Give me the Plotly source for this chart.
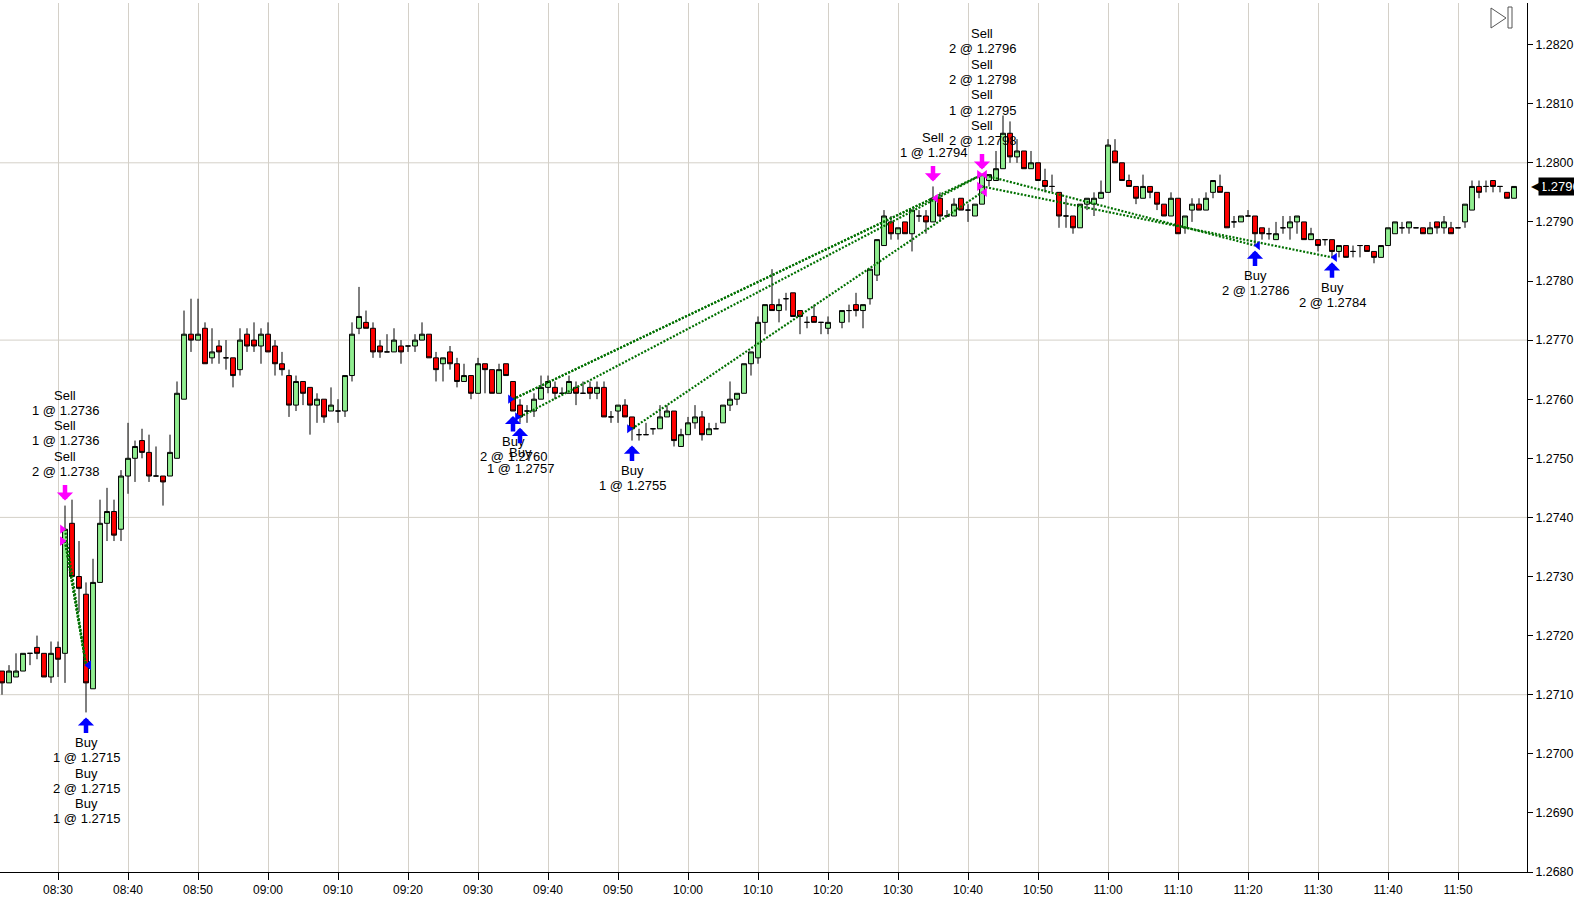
import pandas as pd
import plotly.graph_objects as go

DAY = "2012-06-15"
FIRST_BAR = "08:22"
LAST_BAR = "11:58"
MISSING_BARS = ["10:21"]

# one-minute bars, grouped by ten minutes (first row 08:22-08:29, 10:20 row has no 10:21)
opens = [
    1.2714, 1.2712, 1.2713, 1.2714, 1.2717, 1.2718, 1.2717, 1.2713,
    1.2718, 1.2717, 1.2739, 1.2730, 1.2727, 1.2711, 1.2729, 1.2739, 1.2741, 1.2738,
    1.2747, 1.2750, 1.2753, 1.2751, 1.2747, 1.2747, 1.2747, 1.2750, 1.2760, 1.2771,
    1.2770, 1.2772, 1.2767, 1.2769, 1.2767, 1.2767, 1.2765, 1.2771, 1.2770, 1.2769,
    1.2771, 1.2769, 1.2766, 1.2764, 1.2759, 1.2763, 1.2762, 1.2759, 1.2760, 1.2758,
    1.2758, 1.2758, 1.2764, 1.2772, 1.2773, 1.2772, 1.2769, 1.2768, 1.2768, 1.2769,
    1.2769, 1.2769, 1.2770, 1.2771, 1.2767, 1.2766, 1.2768, 1.2766, 1.2763, 1.2764,
    1.2761, 1.2766, 1.2765, 1.2761, 1.2766, 1.2763, 1.2759, 1.2758, 1.2758, 1.2760,
    1.2762, 1.2762, 1.2761, 1.2761, 1.2762, 1.2761, 1.2762, 1.2761, 1.2762, 1.2757,
    1.2758, 1.2759, 1.2757, 1.2754, 1.2754, 1.2755, 1.2755, 1.2757, 1.2758, 1.2752,
    1.2754, 1.2756, 1.2757, 1.2754, 1.2755, 1.2756, 1.2759, 1.2760, 1.2761, 1.2766,
    1.2767, 1.2773, 1.2776, 1.2775, 1.2777, 1.2778, 1.2775, 1.2773, 1.2774, 1.2773,
    1.2772, 1.2773, 1.2775, 1.2776, 1.2775, 1.2777, 1.2781, 1.2786, 1.2790,
    1.2788, 1.2790, 1.2788, 1.2791, 1.2791, 1.2790, 1.2794, 1.2791, 1.2791, 1.2794,
    1.2792, 1.2791, 1.2793, 1.2797, 1.2797, 1.2799, 1.2805, 1.2801, 1.2802, 1.2799,
    1.2800, 1.2797, 1.2796, 1.2795, 1.2791, 1.2791, 1.2789, 1.2793, 1.2793, 1.2794,
    1.2795, 1.2802, 1.2800, 1.2797, 1.2796, 1.2794, 1.2796, 1.2795, 1.2793, 1.2791,
    1.2794, 1.2789, 1.2792, 1.2793, 1.2792, 1.2795, 1.2796, 1.2795, 1.2790, 1.2790,
    1.2791, 1.2791, 1.2789, 1.2788, 1.2787, 1.2789, 1.2789, 1.2790, 1.2790, 1.2787,
    1.2787, 1.2787, 1.2787, 1.2785, 1.2786, 1.2785, 1.2786, 1.2786, 1.2785, 1.2784,
    1.2786, 1.2788, 1.2789, 1.2789, 1.2789, 1.2789, 1.2788, 1.2790, 1.2789, 1.2789,
    1.2789, 1.2790, 1.2792, 1.2796, 1.2796, 1.2797, 1.2796, 1.2795, 1.2794,
]
highs = [
    1.2714, 1.2715, 1.2717, 1.2717, 1.2717, 1.2720, 1.2717, 1.2719,
    1.2719, 1.2742, 1.2743, 1.2736, 1.2729, 1.2733, 1.2743, 1.2745, 1.2743, 1.2748,
    1.2756, 1.2753, 1.2755, 1.2754, 1.2752, 1.2747, 1.2754, 1.2763, 1.2775, 1.2777,
    1.2777, 1.2773, 1.2772, 1.2770, 1.2770, 1.2767, 1.2772, 1.2772, 1.2773, 1.2772,
    1.2773, 1.2770, 1.2768, 1.2765, 1.2764, 1.2763, 1.2762, 1.2761, 1.2760, 1.2762,
    1.2760, 1.2764, 1.2773, 1.2779, 1.2775, 1.2773, 1.2770, 1.2771, 1.2772, 1.2770,
    1.2769, 1.2771, 1.2773, 1.2771, 1.2768, 1.2767, 1.2769, 1.2767, 1.2766, 1.2764,
    1.2767, 1.2766, 1.2765, 1.2766, 1.2766, 1.2763, 1.2760, 1.2759, 1.2761, 1.2764,
    1.2764, 1.2763, 1.2762, 1.2764, 1.2763, 1.2763, 1.2763, 1.2763, 1.2763, 1.2758,
    1.2759, 1.2760, 1.2757, 1.2755, 1.2756, 1.2755, 1.2759, 1.2759, 1.2758, 1.2755,
    1.2757, 1.2759, 1.2758, 1.2756, 1.2756, 1.2759, 1.2763, 1.2761, 1.2766, 1.2768,
    1.2774, 1.2776, 1.2782, 1.2777, 1.2778, 1.2778, 1.2775, 1.2774, 1.2776, 1.2773,
    1.2774, 1.2775, 1.2776, 1.2778, 1.2776, 1.2782, 1.2787, 1.2792, 1.2791,
    1.2789, 1.2790, 1.2792, 1.2792, 1.2792, 1.2796, 1.2795, 1.2792, 1.2794, 1.2794,
    1.2793, 1.2793, 1.2798, 1.2798, 1.2802, 1.2808, 1.2807, 1.2804, 1.2802, 1.2802,
    1.2800, 1.2799, 1.2798, 1.2795, 1.2794, 1.2791, 1.2793, 1.2794, 1.2795, 1.2797,
    1.2804, 1.2804, 1.2800, 1.2798, 1.2796, 1.2798, 1.2796, 1.2795, 1.2793, 1.2795,
    1.2794, 1.2791, 1.2794, 1.2794, 1.2795, 1.2797, 1.2798, 1.2795, 1.2791, 1.2791,
    1.2792, 1.2791, 1.2789, 1.2789, 1.2790, 1.2791, 1.2791, 1.2791, 1.2790, 1.2789,
    1.2787, 1.2787, 1.2787, 1.2786, 1.2786, 1.2786, 1.2786, 1.2786, 1.2785, 1.2786,
    1.2789, 1.2790, 1.2790, 1.2790, 1.2789, 1.2789, 1.2790, 1.2790, 1.2791, 1.2790,
    1.2789, 1.2793, 1.2797, 1.2797, 1.2797, 1.2797, 1.2796, 1.2795, 1.2796,
]
lows = [
    1.2710, 1.2712, 1.2713, 1.2714, 1.2715, 1.2716, 1.2713, 1.2712,
    1.2713, 1.2712, 1.2730, 1.2724, 1.2707, 1.2711, 1.2729, 1.2736, 1.2736, 1.2736,
    1.2744, 1.2746, 1.2750, 1.2746, 1.2747, 1.2742, 1.2747, 1.2750, 1.2760, 1.2768,
    1.2770, 1.2766, 1.2766, 1.2766, 1.2765, 1.2762, 1.2764, 1.2768, 1.2768, 1.2766,
    1.2768, 1.2764, 1.2764, 1.2757, 1.2758, 1.2759, 1.2754, 1.2756, 1.2756, 1.2758,
    1.2756, 1.2757, 1.2763, 1.2771, 1.2772, 1.2767, 1.2767, 1.2768, 1.2768, 1.2766,
    1.2768, 1.2768, 1.2770, 1.2767, 1.2763, 1.2763, 1.2765, 1.2762, 1.2763, 1.2760,
    1.2761, 1.2761, 1.2761, 1.2761, 1.2764, 1.2758, 1.2756, 1.2756, 1.2757, 1.2760,
    1.2761, 1.2760, 1.2761, 1.2761, 1.2759, 1.2761, 1.2760, 1.2760, 1.2757, 1.2756,
    1.2756, 1.2757, 1.2753, 1.2753, 1.2754, 1.2754, 1.2755, 1.2757, 1.2752, 1.2752,
    1.2754, 1.2755, 1.2753, 1.2754, 1.2755, 1.2756, 1.2758, 1.2759, 1.2761, 1.2764,
    1.2766, 1.2771, 1.2775, 1.2773, 1.2775, 1.2774, 1.2771, 1.2772, 1.2773, 1.2771,
    1.2771, 1.2772, 1.2773, 1.2774, 1.2772, 1.2776, 1.2780, 1.2786, 1.2787,
    1.2787, 1.2788, 1.2785, 1.2790, 1.2788, 1.2790, 1.2790, 1.2791, 1.2791, 1.2792,
    1.2790, 1.2791, 1.2793, 1.2796, 1.2797, 1.2799, 1.2800, 1.2800, 1.2799, 1.2799,
    1.2797, 1.2795, 1.2795, 1.2789, 1.2789, 1.2788, 1.2789, 1.2792, 1.2791, 1.2794,
    1.2795, 1.2800, 1.2797, 1.2796, 1.2793, 1.2794, 1.2794, 1.2792, 1.2791, 1.2791,
    1.2788, 1.2788, 1.2790, 1.2792, 1.2792, 1.2794, 1.2795, 1.2789, 1.2789, 1.2790,
    1.2791, 1.2786, 1.2787, 1.2787, 1.2787, 1.2788, 1.2787, 1.2788, 1.2787, 1.2787,
    1.2785, 1.2786, 1.2784, 1.2784, 1.2784, 1.2784, 1.2784, 1.2785, 1.2783, 1.2784,
    1.2786, 1.2788, 1.2788, 1.2788, 1.2789, 1.2788, 1.2788, 1.2788, 1.2788, 1.2788,
    1.2789, 1.2789, 1.2792, 1.2794, 1.2795, 1.2795, 1.2795, 1.2794, 1.2794,
]
closes = [
    1.2712, 1.2714, 1.2714, 1.2717, 1.2717, 1.2717, 1.2713, 1.2717,
    1.2716, 1.2738, 1.2730, 1.2728, 1.2712, 1.2729, 1.2739, 1.2741, 1.2737, 1.2747,
    1.2750, 1.2752, 1.2751, 1.2747, 1.2747, 1.2746, 1.2751, 1.2761, 1.2771, 1.2770,
    1.2771, 1.2766, 1.2768, 1.2768, 1.2767, 1.2764, 1.2770, 1.2769, 1.2769, 1.2771,
    1.2768, 1.2766, 1.2765, 1.2759, 1.2763, 1.2761, 1.2759, 1.2760, 1.2757, 1.2759,
    1.2758, 1.2764, 1.2771, 1.2774, 1.2772, 1.2768, 1.2768, 1.2768, 1.2770, 1.2768,
    1.2769, 1.2770, 1.2771, 1.2767, 1.2765, 1.2767, 1.2766, 1.2763, 1.2764, 1.2761,
    1.2766, 1.2765, 1.2761, 1.2765, 1.2764, 1.2758, 1.2757, 1.2758, 1.2760, 1.2762,
    1.2763, 1.2761, 1.2761, 1.2763, 1.2761, 1.2761, 1.2761, 1.2762, 1.2757, 1.2757,
    1.2759, 1.2757, 1.2755, 1.2754, 1.2754, 1.2755, 1.2757, 1.2758, 1.2753, 1.2754,
    1.2756, 1.2757, 1.2754, 1.2755, 1.2755, 1.2759, 1.2760, 1.2761, 1.2766, 1.2768,
    1.2773, 1.2776, 1.2775, 1.2776, 1.2777, 1.2774, 1.2774, 1.2773, 1.2773, 1.2773,
    1.2773, 1.2775, 1.2775, 1.2775, 1.2776, 1.2782, 1.2787, 1.2791, 1.2788,
    1.2789, 1.2788, 1.2792, 1.2791, 1.2790, 1.2794, 1.2791, 1.2791, 1.2793, 1.2792,
    1.2792, 1.2793, 1.2798, 1.2798, 1.2799, 1.2805, 1.2801, 1.2802, 1.2799, 1.2800,
    1.2797, 1.2796, 1.2796, 1.2791, 1.2791, 1.2789, 1.2793, 1.2794, 1.2794, 1.2795,
    1.2803, 1.2800, 1.2797, 1.2796, 1.2794, 1.2796, 1.2795, 1.2793, 1.2791, 1.2794,
    1.2788, 1.2791, 1.2793, 1.2792, 1.2794, 1.2797, 1.2795, 1.2789, 1.2790, 1.2791,
    1.2791, 1.2788, 1.2788, 1.2788, 1.2788, 1.2789, 1.2790, 1.2791, 1.2787, 1.2788,
    1.2786, 1.2787, 1.2785, 1.2786, 1.2784, 1.2785, 1.2786, 1.2785, 1.2784, 1.2786,
    1.2789, 1.2790, 1.2789, 1.2790, 1.2789, 1.2788, 1.2789, 1.2789, 1.2790, 1.2788,
    1.2789, 1.2793, 1.2796, 1.2795, 1.2796, 1.2796, 1.2796, 1.2794, 1.2796,
]

# executions, in the order the labels are stacked (top to bottom)
exec_times = ["08:31", "08:31", "08:31", "08:34", "08:34", "08:34",
              "09:35", "09:36", "09:52", "10:35",
              "10:42", "10:42", "10:42", "10:42", "11:21", "11:32"]
exec_sides = ["Sell", "Sell", "Sell", "Buy", "Buy", "Buy",
              "Buy", "Buy", "Buy", "Sell",
              "Sell", "Sell", "Sell", "Sell", "Buy", "Buy"]
exec_qty = [1, 1, 2, 1, 2, 1, 2, 1, 1, 1, 2, 2, 1, 2, 2, 2]
exec_prices = [1.2736, 1.2736, 1.2738, 1.2715, 1.2715, 1.2715,
               1.2760, 1.2757, 1.2755, 1.2794,
               1.2796, 1.2798, 1.2795, 1.2798, 1.2786, 1.2784]
exec_roles = ["entry", "entry", "entry", "exit", "exit", "exit",
              "entry", "entry", "entry", "exit",
              "entry", "entry", "exit", "exit", "exit", "exit"]

# entry -> exit pairs
trade_entry_times = ["08:31", "08:31", "08:31", "09:35", "09:35", "09:36", "09:52", "10:42", "10:42"]
trade_entry_prices = [1.2736, 1.2736, 1.2738, 1.2760, 1.2760, 1.2757, 1.2755, 1.2798, 1.2796]
trade_exit_times = ["08:34", "08:34", "08:34", "10:35", "10:42", "10:42", "10:42", "11:21", "11:32"]
trade_exit_prices = [1.2715, 1.2715, 1.2715, 1.2794, 1.2798, 1.2798, 1.2795, 1.2786, 1.2784]

GRID_LEVELS = [1.2710, 1.2740, 1.2770, 1.2800]

FONT = "Liberation Sans, Arial, sans-serif"
GRID = "#d4d0c8"
SELL_COLOR = "#ff00ff"
BUY_COLOR = "#0000ff"
TRADE_LINE = "#007000"

W, H = 1574, 903
M_L, M_R, M_T, M_B = 0, 47, 3, 31
PLOT_W = W - M_L - M_R
PLOT_H = H - M_T - M_B


def ts(hhmm):
    return pd.Timestamp(f"{DAY} {hhmm}")


def px_x(px):
    # pixel column -> paper x
    return (px - M_L) / PLOT_W


def px_y(py):
    # pixel row -> paper y
    return (H - M_B - py) / PLOT_H


bar_times = pd.date_range(ts(FIRST_BAR), ts(LAST_BAR), freq="1min")
bar_times = bar_times[~bar_times.isin([ts(t) for t in MISSING_BARS])]
assert len(bar_times) == len(opens) == len(highs) == len(lows) == len(closes)
bar_index = {t: i for i, t in enumerate(bar_times)}

fig = go.Figure()

fig.add_trace(go.Candlestick(
    x=bar_times,
    open=opens, high=highs, low=lows, close=closes,
    increasing=dict(fillcolor="#90ee90", line=dict(color="black", width=1)),
    decreasing=dict(fillcolor="#ff0000", line=dict(color="black", width=1)),
    whiskerwidth=0,
    hoverinfo="skip",
    showlegend=False,
))

# dotted lines between entry and exit fills
line_x, line_y = [], []
for t0, p0, t1, p1 in zip(trade_entry_times, trade_entry_prices, trade_exit_times, trade_exit_prices):
    line_x += [ts(t0), ts(t1), None]
    line_y += [p0, p1, None]
fig.add_trace(go.Scatter(
    x=line_x, y=line_y, mode="lines",
    line=dict(color=TRADE_LINE, width=2.2, dash="2px,1.6px"),
    hoverinfo="skip", showlegend=False,
))

# fill markers: entries sit left of the bar, exits right of it
nudge = pd.Timedelta(seconds=24)
for side, color in (("Sell", SELL_COLOR), ("Buy", BUY_COLOR)):
    for role, symbol, shift in (("entry", "triangle-right", -nudge), ("exit", "triangle-left", nudge)):
        xs, ys = [], []
        for t, s, p, r in zip(exec_times, exec_sides, exec_prices, exec_roles):
            if s == side and r == role:
                xs.append(ts(t) + shift)
                ys.append(p)
        if xs:
            fig.add_trace(go.Scatter(
                x=xs, y=ys, mode="markers",
                marker=dict(symbol=symbol, size=8, color=color, line=dict(width=0)),
                hoverinfo="skip", showlegend=False, cliponaxis=False,
            ))

# arrows and stacked labels per bar
groups = []
for t, s, q, p in zip(exec_times, exec_sides, exec_qty, exec_prices):
    if not groups or groups[-1][0] != (t, s):
        groups.append(((t, s), []))
    groups[-1][1].append((q, p))

LINE_STEP = 15.3
for (t, side), fills in groups:
    i = bar_index[ts(t)]
    lines = []
    for q, p in fills:
        lines += [side, f"{q} @ {p:.4f}"]
    if side == "Sell":
        anchor = highs[i]
        shifts = [34 + LINE_STEP * k for k in range(len(lines))][::-1]
        color, ay, yshift = SELL_COLOR, -17, 5
    else:
        anchor = lows[i]
        shifts = [-(30 + LINE_STEP * k) for k in range(len(lines))]
        color, ay, yshift = BUY_COLOR, 17, -5
    for txt, sh in zip(lines, shifts):
        fig.add_annotation(x=ts(t), y=anchor, text=txt, showarrow=False, yshift=sh,
                           font=dict(family=FONT, size=13, color="black"))
    fig.add_annotation(x=ts(t), y=anchor, text="", showarrow=True, ax=0, ay=ay, yshift=yshift,
                       arrowhead=1, arrowsize=0.6, arrowwidth=4.5, arrowcolor=color)

for level in GRID_LEVELS:
    fig.add_shape(type="line", xref="paper", x0=0, x1=1, yref="y", y0=level, y1=level,
                  line=dict(color=GRID, width=1), layer="below")

# last price tag on the price axis
last_close = closes[-1]
fig.add_annotation(xref="paper", x=1, y=last_close, xanchor="left", xshift=11,
                   text=f"{last_close:.4f}", showarrow=False, bgcolor="black", borderpad=1,
                   font=dict(family=FONT, size=13, color="white"))
fig.add_annotation(xref="paper", x=1, y=last_close, xanchor="left", xshift=2,
                   text="◀", showarrow=False, font=dict(family="DejaVu Sans", size=15, color="black"))

# "go to last bar" button in the corner
fig.add_shape(type="path", xref="paper", yref="paper",
              path=(f"M {px_x(1491)},{px_y(8)} L {px_x(1506)},{px_y(18)} "
                    f"L {px_x(1491)},{px_y(28)} Z"),
              line=dict(color="#555555", width=1), fillcolor="white")
fig.add_shape(type="rect", xref="paper", yref="paper",
              x0=px_x(1508), x1=px_x(1512), y0=px_y(28), y1=px_y(7),
              line=dict(color="#555555", width=1), fillcolor="white")

x_start = ts("08:30") - pd.Timedelta(minutes=58 / 7)
x_end = ts("08:30") + pd.Timedelta(minutes=(PLOT_W - 58) / 7)

fig.update_layout(
    width=W, height=H,
    margin=dict(l=M_L, r=M_R, t=M_T, b=M_B, pad=0, autoexpand=False),
    paper_bgcolor="white", plot_bgcolor="white",
    showlegend=False, hovermode=False,
    boxgap=0.3, boxgroupgap=0,
    xaxis=dict(
        type="date", range=[x_start, x_end],
        rangeslider=dict(visible=False),
        dtick=600000, tick0=ts("08:00"), tickformat="%H:%M",
        showgrid=True, gridcolor=GRID, gridwidth=1,
        showline=True, linecolor="black", linewidth=1,
        ticks="outside", ticklen=7, tickcolor="black",
        tickfont=dict(family=FONT, size=12, color="black"),
        zeroline=False, fixedrange=True, automargin=False,
    ),
    yaxis=dict(
        side="right", range=[1.2680, 1.2680 + PLOT_H / 59100],
        dtick=0.001, tick0=1.2680, tickformat=".4f",
        showgrid=False, zeroline=False,
        showline=True, linecolor="black", linewidth=1,
        ticks="outside", ticklen=5, tickcolor="black",
        tickfont=dict(family=FONT, size=12.4, color="black"),
        fixedrange=True, automargin=False,
    ),
)

fig.write_html(
    "out.html",
    config={"displayModeBar": False},
    post_script="document.body.style.margin='0';document.body.style.overflow='hidden';",
)
